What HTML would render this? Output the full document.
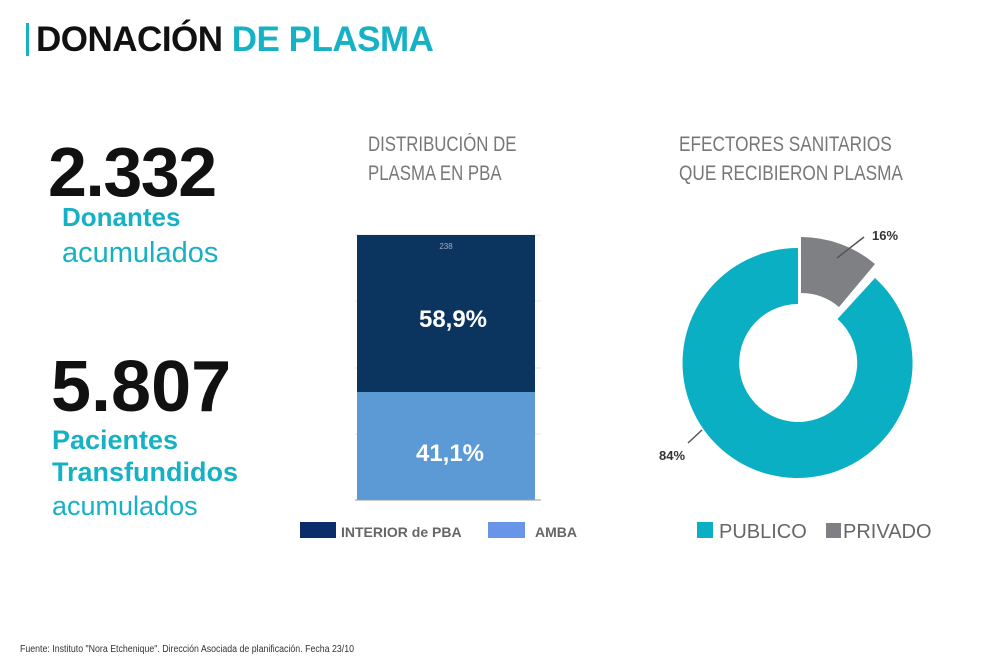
<!DOCTYPE html>
<html><head><meta charset="utf-8"><style>
body{margin:0;width:999px;height:665px;background:#fff;position:relative;overflow:hidden;font-family:"Liberation Sans",sans-serif}
.a{position:absolute;white-space:nowrap;line-height:1}
</style></head><body>
<div class="a" style="left:26px;top:23px;width:3px;height:33px;background:#17b1c6"></div>
<div class="a" style="left:36px;top:22px;font-size:35px;font-weight:bold;letter-spacing:-0.5px;color:#111">DONACIÓN <span style="color:#17b1c6">DE PLASMA</span></div>

<div class="a" style="left:48px;top:137px;font-size:70px;font-weight:bold;letter-spacing:-1.5px;color:#111">2.332</div>
<div class="a" style="left:62px;top:204px;font-size:26px;font-weight:bold;color:#17b1c6">Donantes</div>
<div class="a" style="left:62px;top:239px;font-size:29px;color:#17b1c6">acumulados</div>
<div class="a" style="left:51px;top:351px;font-size:72px;font-weight:bold;letter-spacing:0px;color:#111">5.807</div>
<div class="a" style="left:52px;top:427px;font-size:27px;font-weight:bold;color:#17b1c6">Pacientes</div>
<div class="a" style="left:52px;top:459px;font-size:27px;font-weight:bold;color:#17b1c6">Transfundidos</div>
<div class="a" style="left:52px;top:493px;font-size:27px;color:#17b1c6">acumulados</div>

<div class="a" style="left:368px;top:134px;font-size:21px;color:#777;transform:scaleX(0.8);transform-origin:left">DISTRIBUCIÓN DE</div>
<div class="a" style="left:368px;top:163px;font-size:21px;color:#777;transform:scaleX(0.8);transform-origin:left">PLASMA EN PBA</div>
<div class="a" style="left:679px;top:134px;font-size:21px;color:#777;transform:scaleX(0.82);transform-origin:left">EFECTORES SANITARIOS</div>
<div class="a" style="left:679px;top:163px;font-size:21px;color:#777;transform:scaleX(0.82);transform-origin:left">QUE RECIBIERON PLASMA</div>

<svg class="a" style="left:0;top:0" width="999" height="665">
<g stroke="#e6e6e6" stroke-width="1">
<line x1="355" y1="235" x2="541" y2="235"/><line x1="355" y1="301" x2="541" y2="301"/>
<line x1="355" y1="368" x2="541" y2="368"/><line x1="355" y1="434" x2="541" y2="434"/>
</g>
<rect x="357" y="235" width="178" height="157" fill="#0b355f"/>
<rect x="357" y="392" width="178" height="108" fill="#5b9ad5"/>
<line x1="355" y1="500" x2="541" y2="500" stroke="#999" stroke-width="1"/>
<text x="446" y="249" font-size="8" fill="#aab" text-anchor="middle">238</text>
<text x="453" y="327" font-size="24" font-weight="bold" fill="#fff" text-anchor="middle">58,9%</text>
<text x="450" y="461" font-size="24" font-weight="bold" fill="#fff" text-anchor="middle">41,1%</text>
<rect x="300" y="522" width="36" height="16" fill="#0b2e6b"/>
<text x="341" y="537" font-size="14" font-weight="bold" fill="#666">INTERIOR de PBA</text>
<rect x="488" y="522" width="37" height="16" fill="#6895e8"/>
<text x="535" y="537" font-size="14" font-weight="bold" fill="#666">AMBA</text>

<path d="M875 278 A115 115 0 1 1 798 248 L798 304 A59 59 0 1 0 837.5 319 Z" fill="#0aafc4"/>
<path d="M801 237 A115 115 0 0 1 875 264 L839 307 A59 59 0 0 0 801 293 Z" fill="#7f8083"/>
<line x1="837" y1="258" x2="864" y2="237" stroke="#555" stroke-width="1.5"/>
<text x="872" y="240" font-size="13" font-weight="bold" fill="#333">16%</text>
<line x1="702" y1="430" x2="688" y2="443" stroke="#555" stroke-width="1.5"/>
<text x="659" y="460" font-size="13" font-weight="bold" fill="#333">84%</text>
<rect x="697" y="522" width="16" height="16" fill="#0aafc4"/>
<text x="719" y="538" font-size="20" fill="#666">PUBLICO</text>
<rect x="826" y="523" width="15" height="15" fill="#7f8083"/>
<text x="843" y="538" font-size="20" fill="#666">PRIVADO</text>
</svg>
<div class="a" style="left:20px;top:645px;font-size:10px;color:#333;transform:scaleX(0.88);transform-origin:left">Fuente: Instituto "Nora Etchenique". Dirección Asociada de planificación. Fecha 23/10</div>
</body></html>
